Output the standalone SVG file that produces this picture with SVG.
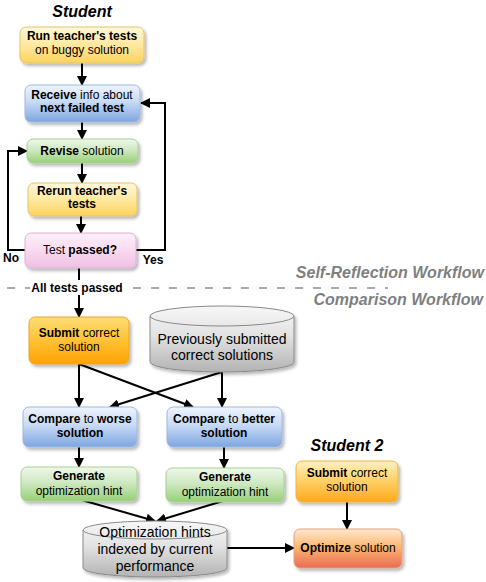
<svg xmlns="http://www.w3.org/2000/svg" width="486" height="582" viewBox="0 0 486 582">
<defs>
<linearGradient id="gY" x1="0" y1="0" x2="0" y2="1"><stop offset="0" stop-color="#fff7dc"/><stop offset="0.45" stop-color="#ffeaa6"/><stop offset="1" stop-color="#fdd35e"/></linearGradient>
<linearGradient id="gB" x1="0" y1="0" x2="0" y2="1"><stop offset="0" stop-color="#eef4fd"/><stop offset="0.45" stop-color="#c8daf5"/><stop offset="1" stop-color="#7ea6e0"/></linearGradient>
<linearGradient id="gG" x1="0" y1="0" x2="0" y2="1"><stop offset="0" stop-color="#eef7ea"/><stop offset="0.45" stop-color="#cfe9c2"/><stop offset="1" stop-color="#97d077"/></linearGradient>
<linearGradient id="gO" x1="0" y1="0" x2="0" y2="1"><stop offset="0" stop-color="#ffdd77"/><stop offset="0.45" stop-color="#ffc43a"/><stop offset="1" stop-color="#ffa200"/></linearGradient>
<linearGradient id="gO2" x1="0" y1="0" x2="0" y2="1"><stop offset="0" stop-color="#fff0c4"/><stop offset="0.45" stop-color="#ffd36b"/><stop offset="1" stop-color="#ffa81a"/></linearGradient>
<linearGradient id="gR" x1="0" y1="0" x2="0" y2="1"><stop offset="0" stop-color="#ffe9cf"/><stop offset="0.45" stop-color="#fbb872"/><stop offset="1" stop-color="#ea6b55"/></linearGradient>
<linearGradient id="gP" x1="0" y1="0" x2="0" y2="1"><stop offset="0" stop-color="#fdeef9"/><stop offset="0.45" stop-color="#f9dcf1"/><stop offset="1" stop-color="#efbfe3"/></linearGradient>
<linearGradient id="gS" x1="0" y1="0" x2="0" y2="1"><stop offset="0" stop-color="#f7f7f7"/><stop offset="0.45" stop-color="#e2e2e2"/><stop offset="1" stop-color="#b3b3b3"/></linearGradient>
<filter id="sh" x="-10%" y="-10%" width="125%" height="135%"><feDropShadow dx="2" dy="2.5" stdDeviation="1.5" flood-color="#000" flood-opacity="0.28"/></filter>
<marker id="ah" markerUnits="userSpaceOnUse" markerWidth="10" markerHeight="10" viewBox="0 0 10 10" refX="9" refY="5" orient="auto"><path d="M0,0 L10,5 L0,10 z" fill="#000"/></marker>
</defs>
<style>
text{font-family:"Liberation Sans",Arial,Helvetica,sans-serif;font-size:12px;fill:#000;text-anchor:middle}
.b{font-weight:bold}
.big{font-size:14px}
.title{font-size:16px;font-weight:bold;font-style:italic}
.wf{font-size:16px;font-weight:bold;font-style:italic;fill:#7f7f7f;text-anchor:end}
.box{filter:url(#sh)}
.y{fill:url(#gY);stroke:#e3c46a}
.bl{fill:url(#gB);stroke:#9db8e0}
.gr{fill:url(#gG);stroke:#a9cf93}
.o{fill:url(#gO);stroke:#e8a62a}
.o2{fill:url(#gO2);stroke:#eeb34a}
.r{fill:url(#gR);stroke:#e8a080}
.p{fill:url(#gP);stroke:#dcb2d2}
.s{fill:url(#gS);stroke:#8a8a8a}
.c{fill:none;stroke:#000;stroke-width:2;marker-end:url(#ah)}
.cn{fill:none;stroke:#000;stroke-width:2}
</style>
<rect width="486" height="582" fill="#fff"/>

<text id="title-student" class="title" x="82" y="17">Student</text>
<text id="title-student2" class="title" x="347" y="451">Student 2</text>

<g id="separator">
<path d="M7,288 H388" stroke="#aaaaaa" stroke-width="2" stroke-dasharray="8 10" fill="none"/>
<text class="wf" x="484" y="278">Self-Reflection Workflow</text>
<text class="wf" x="483" y="305">Comparison Workflow</text>
</g>

<g id="connectors">
<path class="c" d="M82,63 V85"/>
<path class="c" d="M82,122 V139"/>
<path class="c" d="M82,163 V183"/>
<path class="c" d="M81,216 V233"/>
<path class="c" d="M136,250 H165 V103 H141"/>
<path class="c" d="M25,250 H8 V151 H27"/>
<path class="c" d="M79,268 V317"/>
<path class="c" d="M79,364 V407"/>
<path class="c" d="M79,364 L193,407"/>
<path class="c" d="M222,372 V407"/>
<path class="c" d="M222,372 L110,407"/>
<path class="c" d="M79,447 V467"/>
<path class="c" d="M224,447 V468"/>
<path class="c" d="M78,499 L155,521"/>
<path class="c" d="M223,501 L157,521"/>
<path class="c" d="M227,548 H294"/>
<path class="c" d="M347,502 V529"/>
</g>

<g id="label-no"><text class="b" x="11" y="262">No</text></g>
<g id="label-yes"><text class="b" x="153" y="264">Yes</text></g>
<g id="label-all-tests-passed">
<rect x="30" y="280" width="94" height="15" fill="#fff"/>
<text class="b" x="77" y="292">All tests passed</text>
</g>

<g id="run-tests">
<rect class="box y" x="20" y="27" width="124" height="36" rx="6"/>
<text class="b" x="82" y="40">Run teacher's tests</text>
<text x="82" y="54">on buggy solution</text>
</g>

<g id="receive-info">
<rect class="box bl" x="25" y="85" width="115" height="37" rx="6"/>
<text x="82" y="99"><tspan class="b">Receive</tspan> info about</text>
<text class="b" x="82" y="112">next failed test</text>
</g>

<g id="revise">
<rect class="box gr" x="27" y="139" width="111" height="24" rx="6"/>
<text x="82" y="155"><tspan class="b">Revise</tspan> solution</text>
</g>

<g id="rerun">
<rect class="box y" x="28" y="183" width="109" height="33" rx="6"/>
<text class="b" x="82" y="195">Rerun teacher's</text>
<text class="b" x="82" y="208">tests</text>
</g>

<g id="test-passed">
<rect class="box p" x="25" y="233" width="111" height="35" rx="6"/>
<text x="80" y="254">Test <tspan class="b">passed?</tspan></text>
</g>

<g id="submit">
<rect class="box o" x="29" y="317" width="100" height="47" rx="6"/>
<text x="79" y="337"><tspan class="b">Submit</tspan> correct</text>
<text x="79" y="351">solution</text>
</g>

<g id="previous-solutions">
<path class="box s" d="M150,316 V362 A72,10 0 0 0 294,362 V316 A72,10 0 0 0 150,316 Z"/>
<path d="M150,316 A72,10 0 0 0 294,316" fill="none" stroke="#8a8a8a"/>
<text class="big" x="222" y="344">Previously submitted</text>
<text class="big" x="222" y="360">correct solutions</text>
</g>

<g id="compare-worse">
<rect class="box bl" x="23" y="407" width="114" height="40" rx="6"/>
<text x="80" y="423"><tspan class="b">Compare</tspan> to <tspan class="b">worse</tspan></text>
<text class="b" x="80" y="437">solution</text>
</g>

<g id="compare-better">
<rect class="box bl" x="167" y="407" width="115" height="40" rx="6"/>
<text x="224" y="423"><tspan class="b">Compare</tspan> to <tspan class="b">better</tspan></text>
<text class="b" x="224" y="437">solution</text>
</g>

<g id="generate-left">
<rect class="box gr" x="21" y="467" width="116" height="34" rx="6"/>
<text class="b" x="79" y="480">Generate</text>
<text x="79" y="495">optimization hint</text>
</g>

<g id="generate-right">
<rect class="box gr" x="166" y="468" width="118" height="34" rx="6"/>
<text class="b" x="225" y="481">Generate</text>
<text x="225" y="496">optimization hint</text>
</g>

<g id="hints-db">
<path class="box s" d="M83,530 V568 A72,9 0 0 0 227,568 V530 A72,9 0 0 0 83,530 Z"/>
<path d="M83,530 A72,9 0 0 0 227,530" fill="none" stroke="#8a8a8a"/>
<text class="big" x="155" y="537">Optimization hints</text>
<text class="big" x="155" y="554">indexed by current</text>
<text class="big" x="155" y="571">performance</text>
</g>

<g id="submit2">
<rect class="box o2" x="296" y="461" width="102" height="41" rx="6"/>
<text x="347" y="477"><tspan class="b">Submit</tspan> correct</text>
<text x="347" y="491">solution</text>
</g>

<g id="optimize">
<rect class="box r" x="294" y="529" width="108" height="39" rx="6"/>
<text x="348" y="552"><tspan class="b">Optimize</tspan> solution</text>
</g>
</svg>
